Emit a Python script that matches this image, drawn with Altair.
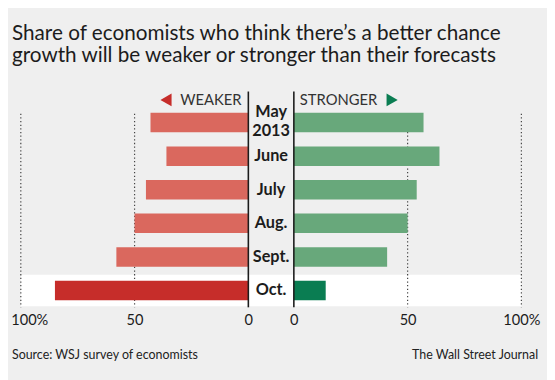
import altair as alt
import pandas as pd

# ---- data ----
months = ["May 2013", "June", "July", "Aug.", "Sept.", "Oct."]
weaker = [43, 36, 45, 50, 58, 85]
stronger = [57, 64, 54, 50, 41, 14]
highlight = "Oct."
tick_values = [100, 50, 0]
grid_values = [100, 50]
title_lines = [
    "Share of economists who think there\u2019s a better chance",
    "growth will be weaker or stronger than their forecasts",
]
weaker_label = "WEAKER"
stronger_label = "STRONGER"
source_text = "Source: WSJ survey of economists"
credit_text = "The Wall Street Journal"

# ---- layout / style ----
gap = 10  # half of the gap between the two panels, in axis units
FONT = "Lato"
BG = "#efefef"
TEXT = "#1c1c1c"
RED_LIGHT, RED_DARK = "#da685e", "#c62d2a"
GREEN_LIGHT, GREEN_DARK = "#68a87b", "#0a7d52"
W, H = 508, 219
LABEL_LH = 18.5

df = pd.DataFrame({"month": months, "weaker": weaker, "stronger": stronger})

xmax = 100 + gap
x_scale = alt.Scale(domain=[-xmax, xmax], nice=False, zero=False)
y_scale = alt.Scale(domain=months, range=[14.5, H], paddingInner=0.42, paddingOuter=0.21)

axis_values = [-(t + gap) for t in tick_values] + [t + gap for t in reversed(tick_values)]
grid_pos = [-(g + gap) for g in grid_values] + [g + gap for g in grid_values]

x_axis = alt.Axis(
    values=axis_values,
    labelExpr=f"abs(datum.value) - {gap} == 100 ? '100%' : format(abs(datum.value) - {gap}, 'd')",
    domain=False, ticks=False, grid=False, title=None, labelFlush=False,
    labelFont=FONT, labelFontSize=14.8, labelColor=TEXT, labelPadding=5,
    labelOffset={"condition": {"test": f"datum.value == {-xmax}", "value": 8.6}, "value": 0},
)

Y = alt.Y("month:N", scale=y_scale, axis=None, sort=months)
base = alt.Chart(df)

band = base.transform_filter(alt.datum.month == highlight).transform_calculate(
    lo=str(-xmax), hi=str(xmax)
).mark_bar(color="white", height=32).encode(
    x=alt.X("lo:Q", scale=x_scale, axis=x_axis), x2="hi:Q", y=Y
)

grid = alt.Chart(pd.DataFrame({"v": grid_pos})).mark_rule(
    color="#444", strokeDash=[1.3, 2.4], strokeWidth=1.2
).encode(x=alt.X("v:Q", scale=x_scale, axis=x_axis), y=alt.value(22.5), y2=alt.value(H))

left = base.transform_calculate(
    x0=f"-datum.weaker - {gap}", x1=str(-gap)
).mark_bar().encode(
    x=alt.X("x0:Q", scale=x_scale, axis=x_axis), x2="x1:Q", y=Y,
    color=alt.condition(alt.datum.month == highlight, alt.value(RED_DARK), alt.value(RED_LIGHT)),
)

right = base.transform_calculate(
    x0=str(gap), x1=f"datum.stronger + {gap}"
).mark_bar().encode(
    x=alt.X("x0:Q", scale=x_scale, axis=x_axis), x2="x1:Q", y=Y,
    color=alt.condition(alt.datum.month == highlight, alt.value(GREEN_DARK), alt.value(GREEN_LIGHT)),
)

zeros = alt.Chart(pd.DataFrame({"v": [-gap, gap]})).mark_rule(
    color=TEXT, strokeWidth=1.6
).encode(x=alt.X("v:Q", scale=x_scale, axis=x_axis), y=alt.value(0), y2=alt.value(H))

label_style = dict(font=FONT, fontWeight="bold", fontSize=16.5, color=TEXT,
                   lineBreak=" ", lineHeight=LABEL_LH, baseline="middle", align="center")
label_enc = dict(x=alt.XDatum(0, type="quantitative", scale=x_scale, axis=x_axis), y=Y, text="month:N")
labels_one = base.transform_filter("indexof(datum.month, ' ') < 0").mark_text(
    **label_style).encode(**label_enc)
labels_two = base.transform_filter("indexof(datum.month, ' ') >= 0").mark_text(
    dy=-LABEL_LH / 2 - 1, **label_style).encode(**label_enc)

hdr = alt.Chart(pd.DataFrame({"t": [weaker_label, stronger_label],
                              "pos": [-13, 12.6]}))
hdr_w = hdr.transform_filter(alt.datum.t == weaker_label).mark_text(
    font=FONT, fontSize=15, color="#333", align="right", baseline="alphabetic"
).encode(x=alt.X("pos:Q", scale=x_scale, axis=x_axis), y=alt.value(14), text="t:N")
hdr_s = hdr.transform_filter(alt.datum.t == stronger_label).mark_text(
    font=FONT, fontSize=15, color="#333", align="left", baseline="alphabetic"
).encode(x=alt.X("pos:Q", scale=x_scale, axis=x_axis), y=alt.value(14), text="t:N")

tri_l = alt.Chart(pd.DataFrame({"p": [-46.2]})).mark_point(
    shape="triangle-left", filled=True, size=170, color=RED_DARK, opacity=1
).encode(x=alt.X("p:Q", scale=x_scale, axis=x_axis), y=alt.value(8.5))
tri_r = alt.Chart(pd.DataFrame({"p": [53.2]})).mark_point(
    shape="triangle-right", filled=True, size=170, color=GREEN_DARK, opacity=1
).encode(x=alt.X("p:Q", scale=x_scale, axis=x_axis), y=alt.value(8.5))

title = alt.Chart(pd.DataFrame({"t": ["\n".join(title_lines)]})).mark_text(
    font=FONT, fontSize=21, color=TEXT, align="left", baseline="alphabetic",
    lineBreak="\n", lineHeight=23,
).encode(x=alt.value(-9), y=alt.value(-52.5), text="t:N")

src = alt.Chart(pd.DataFrame({"t": [source_text]})).mark_text(
    font=FONT, fontSize=12.6, color="#222", align="left", baseline="alphabetic"
).encode(x=alt.value(-9), y=alt.value(271), text="t:N")
cred = alt.Chart(pd.DataFrame({"t": [credit_text]})).mark_text(
    font=FONT, fontSize=12.6, color="#222", align="right", baseline="alphabetic"
).encode(x=alt.value(525), y=alt.value(271), text="t:N")

chart = alt.layer(
    band, grid, left, right, zeros, labels_one, labels_two, hdr_w, hdr_s, tri_l, tri_r,
    title, src, cred
).properties(
    width=W, height=H,
    padding={"left": 13, "top": 82, "right": 26, "bottom": 71},
    autosize=alt.AutoSizeParams(type="none"),
    background=BG,
).configure_view(stroke=None)

chart.save("out.html", embed_options={"renderer": "svg", "actions": False})
